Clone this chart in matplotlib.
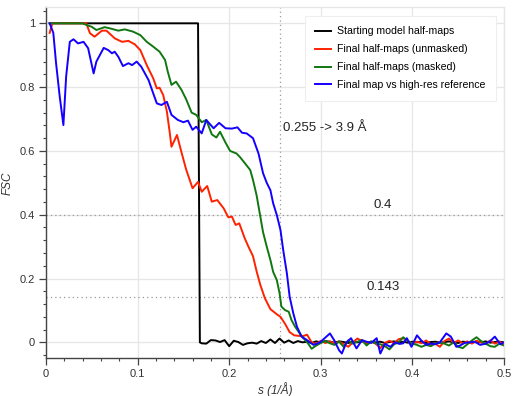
import matplotlib
matplotlib.use("Agg")
import matplotlib.pyplot as plt
from matplotlib.ticker import MultipleLocator, FuncFormatter

plt.rcParams['font.family'] = ['Liberation Sans', 'DejaVu Sans']

# Starting model half-maps
s_black = [0.004, 0.166, 0.168,
           0.170, 0.175, 0.180, 0.185, 0.190, 0.195, 0.200, 0.205, 0.210, 0.215,
           0.220, 0.225, 0.230, 0.235, 0.240, 0.245, 0.250, 0.255, 0.260, 0.265,
           0.270, 0.275, 0.280, 0.285, 0.290, 0.295, 0.300, 0.305, 0.310, 0.315,
           0.320, 0.325, 0.330, 0.335, 0.340, 0.345, 0.350, 0.355, 0.360, 0.365,
           0.370, 0.375, 0.380, 0.385, 0.390, 0.395, 0.400, 0.405, 0.410, 0.415,
           0.420, 0.425, 0.430, 0.435, 0.440, 0.445, 0.450, 0.455, 0.460, 0.465,
           0.470, 0.475, 0.480, 0.485, 0.490, 0.495, 0.500]
fsc_black = [1.0, 1.0, 0.0,
             -0.003, -0.004, 0.007, 0.006, 0.001, 0.007, -0.012, 0.005, 0.001, -0.008,
             -0.003, -0.001, -0.004, 0.004, -0.002, 0.009, -0.002, 0.012, -0.001, 0.006,
             -0.002, 0.004, 0.000, 0.002, -0.002, 0.003, 0.000, 0.004, 0.002, -0.001,
             0.003, 0.001, -0.002, 0.002, 0.000, 0.003, -0.001, 0.002, 0.000, 0.002,
             -0.002, 0.001, 0.003, 0.000, 0.002, -0.001, 0.002, 0.000, 0.003, -0.002,
             0.001, 0.002, -0.001, 0.001, 0.003, 0.000, -0.002, 0.002, 0.001, -0.001,
             0.002, 0.000, 0.003, -0.001, 0.001, 0.002, 0.000]

# Final half-maps (unmasked)
s_red = [0.004, 0.007, 0.044, 0.048, 0.053, 0.061, 0.066, 0.075, 0.083, 0.090,
         0.097, 0.103, 0.110, 0.117, 0.121, 0.124, 0.128, 0.132, 0.135, 0.137,
         0.143, 0.148, 0.153, 0.160, 0.166, 0.170, 0.176, 0.181, 0.187, 0.194,
         0.199, 0.203, 0.207, 0.211, 0.217, 0.221, 0.226, 0.230, 0.234, 0.239,
         0.245, 0.252, 0.256, 0.261, 0.266, 0.271, 0.277, 0.281, 0.285, 0.290,
         0.295, 0.300, 0.305, 0.310, 0.315, 0.320, 0.325, 0.330, 0.335, 0.340,
         0.345, 0.350, 0.355, 0.360, 0.365, 0.370, 0.375, 0.380, 0.385, 0.390,
         0.395, 0.400, 0.405, 0.410, 0.415, 0.420, 0.425, 0.430, 0.435, 0.440,
         0.445, 0.450, 0.455, 0.460, 0.465, 0.470, 0.475, 0.480, 0.485, 0.490,
         0.495, 0.500]
fsc_red = [0.97, 1.0, 1.0, 0.969, 0.958, 0.977, 0.977, 0.953, 0.942, 0.945,
           0.934, 0.916, 0.869, 0.828, 0.796, 0.798, 0.775, 0.723, 0.660, 0.613,
           0.650, 0.595, 0.542, 0.483, 0.503, 0.472, 0.490, 0.441, 0.446, 0.420,
           0.392, 0.394, 0.368, 0.373, 0.326, 0.300, 0.270, 0.222, 0.180, 0.138,
           0.104, 0.088, 0.080, 0.058, 0.032, 0.022, 0.020, 0.020, 0.024, 0.000,
           -0.005, 0.005, -0.002, 0.003, -0.003, 0.002, -0.005, -0.014, 0.000, 0.012,
           0.004, -0.004, 0.002, -0.004, -0.018, -0.002, 0.005, -0.003, 0.010, 0.013,
           0.004, -0.004, 0.002, -0.003, 0.006, -0.006, -0.004, -0.014, 0.004, 0.012,
           -0.002, 0.006, -0.003, 0.003, -0.004, 0.005, 0.000, -0.005, 0.006, -0.004,
           0.002, -0.006]

# Final half-maps (masked)
s_green = [0.004, 0.040, 0.044, 0.050, 0.055, 0.064, 0.070, 0.079, 0.086, 0.095,
           0.103, 0.110, 0.117, 0.124, 0.130, 0.133, 0.137, 0.142, 0.148, 0.153,
           0.159, 0.164, 0.170, 0.175, 0.181, 0.186, 0.190, 0.196, 0.201, 0.208,
           0.212, 0.217, 0.223, 0.226, 0.230, 0.234, 0.237, 0.241, 0.245, 0.248,
           0.252, 0.255, 0.257, 0.261, 0.265, 0.268, 0.272, 0.277, 0.281, 0.286,
           0.290, 0.295, 0.300, 0.305, 0.310, 0.315, 0.320, 0.325, 0.330, 0.335,
           0.340, 0.345, 0.350, 0.355, 0.360, 0.365, 0.370, 0.375, 0.380, 0.385,
           0.390, 0.395, 0.400, 0.405, 0.410, 0.415, 0.420, 0.425, 0.430, 0.435,
           0.440, 0.445, 0.450, 0.455, 0.460, 0.465, 0.470, 0.475, 0.480, 0.485,
           0.490, 0.495, 0.500]
fsc_green = [1.0, 1.0, 0.995, 0.989, 0.979, 0.988, 0.984, 0.977, 0.981, 0.974,
             0.963, 0.942, 0.927, 0.911, 0.885, 0.848, 0.807, 0.817, 0.791, 0.762,
             0.720, 0.713, 0.690, 0.697, 0.652, 0.642, 0.660, 0.626, 0.600, 0.592,
             0.580, 0.562, 0.540, 0.509, 0.460, 0.394, 0.345, 0.300, 0.258, 0.221,
             0.195, 0.154, 0.112, 0.101, 0.096, 0.070, 0.049, 0.028, 0.013, -0.003,
             -0.020, -0.010, -0.002, 0.004, -0.003, -0.008, 0.002, -0.014, 0.006, -0.004,
             0.002, 0.007, -0.010, 0.003, -0.004, -0.006, -0.012, -0.022, -0.006, 0.000,
             0.016, 0.004, -0.004, -0.008, -0.014, -0.008, -0.012, -0.004, 0.000, -0.004,
             -0.010, 0.000, -0.014, -0.018, -0.006, 0.006, 0.016, 0.004, -0.004, -0.012,
             -0.014, -0.004, -0.010]

# Final map vs high-res reference
s_blue = [0.004, 0.008, 0.011, 0.015, 0.019, 0.022, 0.026, 0.030, 0.035, 0.041,
          0.046, 0.052, 0.055, 0.063, 0.068, 0.072, 0.075, 0.079, 0.084, 0.090,
          0.094, 0.099, 0.104, 0.112, 0.117, 0.121, 0.126, 0.132, 0.137, 0.144,
          0.150, 0.155, 0.160, 0.164, 0.170, 0.175, 0.183, 0.189, 0.196, 0.203,
          0.209, 0.214, 0.219, 0.226, 0.232, 0.237, 0.241, 0.245, 0.248, 0.252,
          0.256, 0.259, 0.263, 0.266, 0.270, 0.274, 0.279, 0.285, 0.292, 0.297,
          0.300, 0.305, 0.310, 0.315, 0.320, 0.323, 0.328, 0.333, 0.339, 0.345,
          0.350, 0.355, 0.361, 0.365, 0.370, 0.376, 0.381, 0.386, 0.390, 0.394,
          0.399, 0.405, 0.410, 0.415, 0.420, 0.425, 0.430, 0.437, 0.442, 0.448,
          0.452, 0.457, 0.462, 0.468, 0.474, 0.480, 0.485, 0.490, 0.496, 0.500]
fsc_blue = [1.0, 0.97, 0.875, 0.77, 0.681, 0.833, 0.942, 0.950, 0.937, 0.942,
            0.922, 0.843, 0.880, 0.923, 0.916, 0.906, 0.911, 0.895, 0.866, 0.875,
            0.869, 0.880, 0.864, 0.822, 0.781, 0.749, 0.744, 0.754, 0.713, 0.697,
            0.690, 0.695, 0.666, 0.676, 0.655, 0.697, 0.671, 0.688, 0.671, 0.670,
            0.674, 0.657, 0.655, 0.640, 0.592, 0.530, 0.500, 0.477, 0.436, 0.399,
            0.352, 0.289, 0.216, 0.143, 0.091, 0.049, 0.018, 0.007, -0.008, -0.003,
            0.002, 0.015, 0.028, 0.005, -0.025, -0.035, 0.000, 0.013, -0.019, 0.007,
            0.002, -0.002, 0.013, -0.035, -0.005, -0.014, 0.000, -0.005, -0.003, 0.013,
            -0.014, 0.022, 0.005, -0.008, -0.004, -0.006, 0.000, 0.028, 0.018, -0.014,
            -0.010, -0.002, 0.000, 0.002, -0.008, -0.004, 0.004, 0.018, -0.006, 0.000]

labels = ['Starting model half-maps', 'Final half-maps (unmasked)',
          'Final half-maps (masked)', 'Final map vs high-res reference']
colors = ['black', '#ff2200', '#117711', '#1400ff']
thresholds = [0.4, 0.143]
threshold_labels = ['0.4', '0.143']
res_s = 0.255
res_label = '0.255 -> 3.9 Å'

fig = plt.figure(figsize=(5.15, 3.96), dpi=100)
ax = fig.add_axes([0.0893, 0.0952, 0.8893, 0.8862])

series = [(s_black, fsc_black), (s_red, fsc_red), (s_green, fsc_green), (s_blue, fsc_blue)]
for (x, y), lab, c in zip(series, labels, colors):
    ax.plot(x, y, color=c, lw=1.4, label=lab, solid_joinstyle='round')

for t, tl in zip(thresholds, threshold_labels):
    ax.axhline(t, color='#999999', lw=0.9, ls=(0, (1, 2.5)), zorder=1)
    ax.text(0.368, t + 0.03, tl, fontsize=9.5, color='#222222', ha='center', va='center')
ax.axvline(res_s, color='#999999', lw=0.9, ls=(0, (1, 2.5)), zorder=1)
ax.text(res_s + 0.004, 0.672, res_label, fontsize=9.5, color='#222222', ha='left', va='center')

ax.set_xlim(0, 0.5)
ax.set_ylim(-0.05, 1.05)
ax.xaxis.set_major_locator(MultipleLocator(0.1))
ax.xaxis.set_minor_locator(MultipleLocator(0.02))
ax.yaxis.set_major_locator(MultipleLocator(0.2))
ax.yaxis.set_minor_locator(MultipleLocator(0.04))
fmt = FuncFormatter(lambda v, p: f'{v:.1f}'.rstrip('0').rstrip('.') if abs(v) > 1e-9 else '0')
ax.xaxis.set_major_formatter(fmt)
ax.yaxis.set_major_formatter(fmt)
ax.grid(True, which='major', color='#e6e6e6', lw=0.9, zorder=0)
ax.set_axisbelow(True)

ax.tick_params(which='major', length=5, width=0.9, color='#444444', labelsize=8, labelcolor='#333333', pad=3)
ax.tick_params(which='minor', length=2.5, width=0.8, color='#444444')
for side in ['left', 'bottom']:
    ax.spines[side].set_color('#444444')
    ax.spines[side].set_linewidth(1.0)
for side in ['top', 'right']:
    ax.spines[side].set_color('#e6e6e6')
    ax.spines[side].set_linewidth(0.9)

ax.set_xlabel('s (1/Å)', fontsize=8.5, style='italic', color='#333333', labelpad=2)
ax.set_ylabel('FSC', fontsize=8.5, style='italic', color='#333333', labelpad=4)

leg = ax.legend(loc='upper right', fontsize=7.6, handlelength=1.5, handletextpad=0.5,
                labelspacing=0.75, borderpad=1.0, borderaxespad=0.8, fancybox=False,
                framealpha=1.0, edgecolor='#eeeeee')
leg.get_frame().set_linewidth(0.8)

fig.savefig('out.png', dpi=100)
